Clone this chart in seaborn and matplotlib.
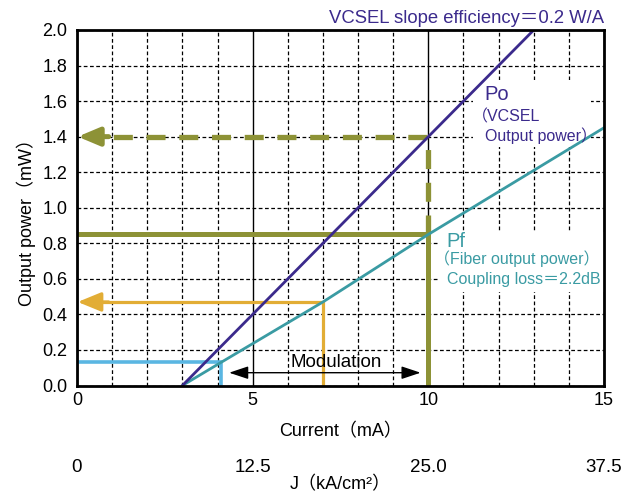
import matplotlib
matplotlib.use("Agg")
import matplotlib.pyplot as plt
import seaborn as sns
import pandas as pd
from matplotlib.patches import Rectangle
from matplotlib.ticker import MultipleLocator

# VCSEL output power (Po) and fiber-coupled power (Pf) vs. drive current
current_po = [3.0, 13.0]
power_po = [0.0, 2.0]
current_pf = [3.0, 4.1, 7.0, 10.0, 15.0]
power_pf = [0.0, 0.13, 0.47, 0.85, 1.45]

# Operating points marked on the curves
low_current, low_power = 4.1, 0.13
mid_current, mid_power = 7.0, 0.47
high_current, high_pf, high_po = 10.0, 0.85, 1.40
modulation_span = [4.33, 9.78]

x_ticks = [0, 5, 10, 15]
x_tick_labels = ["0", "5", "10", "15"]
y_ticks = [0.0, 0.2, 0.4, 0.6, 0.8, 1.0, 1.2, 1.4, 1.6, 1.8, 2.0]
j_ticks = [0, 12.5, 25.0, 37.5]
j_tick_labels = ["0", "12.5", "25.0", "37.5"]

PURPLE = "#3b2a8c"
TEAL = "#3a9ba3"
OLIVE = "#8d9236"
ORANGE = "#e2ad35"
BLUE = "#5ab6e2"

sns.set_theme(style="white")
plt.rcParams["font.family"] = ["Liberation Sans", "Noto Sans CJK JP", "DejaVu Sans"]
plt.rcParams["font.size"] = 13

fig = plt.figure(figsize=(6.32, 4.94), dpi=100)
ax = fig.add_axes([77 / 632, 1 - 385.5 / 494, (604 - 77) / 632, (385.5 - 30) / 494])

po_df = pd.DataFrame({"current": current_po, "power": power_po})
pf_df = pd.DataFrame({"current": current_pf, "power": power_pf})

# grid: dashed every 1 mA / 0.2 mW, solid at 5 and 10 mA
ax.set_xlim(0, 15)
ax.set_ylim(0, 2.0)
ax.set_xticks(x_ticks)
ax.set_xticklabels(x_tick_labels)
ax.xaxis.set_minor_locator(MultipleLocator(1))
ax.set_yticks(y_ticks)
ax.set_yticklabels([f"{v:.1f}" for v in y_ticks])
ax.grid(False)
ax.grid(True, axis="x", which="minor", color="black", lw=0.9, ls=(0, (3, 2)), zorder=0)
ax.grid(True, axis="x", which="major", color="black", lw=1.0, ls="-", zorder=0)
ax.grid(True, axis="y", which="major", color="black", lw=0.9, ls=(0, (3, 2)), zorder=0)
ax.set_axisbelow(True)

# white panels behind the curve labels
ax.add_patch(Rectangle((11.27, 1.34), 3.35, 0.38, facecolor="white", edgecolor="none", zorder=1))
ax.add_patch(Rectangle((10.3, 0.526), 4.7, 0.34, facecolor="white", edgecolor="none", zorder=1))

# low level marker (blue)
ax.plot([0, low_current, low_current], [low_power, low_power, 0], color=BLUE, lw=2.6,
        solid_joinstyle="miter", zorder=3)

# mid level marker (orange) with arrow to the power axis
ax.plot([mid_current, mid_current, 0.6], [0, mid_power, mid_power], color=ORANGE, lw=2.3,
        solid_joinstyle="miter", zorder=3)
ax.annotate("", xy=(0.02, mid_power), xytext=(0.9, mid_power),
            arrowprops=dict(arrowstyle="-|>,head_length=1.1,head_width=0.45",
                            color=ORANGE, lw=2.3, shrinkA=0, shrinkB=0), zorder=3)

# high level marker (olive): fiber power solid, VCSEL power dashed
ax.plot([0, high_current, high_current], [high_pf, high_pf, 0], color=OLIVE, lw=3.6,
        solid_joinstyle="miter", zorder=3)
ax.plot([high_current, high_current, 0.7], [high_pf, high_po, high_po], color=OLIVE, lw=3.8,
        ls=(0, (3.6, 2.6)), zorder=3)
ax.annotate("", xy=(0.02, high_po), xytext=(0.9, high_po),
            arrowprops=dict(arrowstyle="-|>,head_length=1.0,head_width=0.42",
                            color=OLIVE, lw=3.6, shrinkA=0, shrinkB=0), zorder=3)

# characteristic curves
sns.lineplot(data=pf_df, x="current", y="power", ax=ax, color=TEAL, lw=2.0, zorder=4)
sns.lineplot(data=po_df, x="current", y="power", ax=ax, color=PURPLE, lw=2.0, zorder=4)

# modulation range
ax.annotate("", xy=(modulation_span[0], 0.072), xytext=(modulation_span[1], 0.072),
            arrowprops=dict(arrowstyle="<|-|>,head_length=0.9,head_width=0.3",
                            color="black", lw=1.0, shrinkA=0, shrinkB=0), zorder=5)
ax.text(7.39, 0.13, "Modulation", ha="center", va="center", fontsize=13.5, color="black", zorder=5)

# curve labels
ax.text(11.6, 1.635, "Po", color=PURPLE, fontsize=14.5, ha="left", va="center", zorder=5)
ax.text(11.25, 1.512, "（VCSEL", color=PURPLE, fontsize=11.5, ha="left", va="center", zorder=5)
ax.text(11.6, 1.404, "Output power）", color=PURPLE, fontsize=11.5, ha="left", va="center", zorder=5)

ax.text(10.5, 0.809, "Pf", color=TEAL, fontsize=14.5, ha="left", va="center", zorder=5)
ax.text(10.15, 0.712, "（Fiber output power）", color=TEAL, fontsize=11.5, ha="left", va="center", zorder=5)
ax.text(10.52, 0.594, "Coupling loss＝2.2dB", color=TEAL, fontsize=11.5, ha="left", va="center", zorder=5)

ax.text(1.0, 1.008, "VCSEL slope efficiency＝0.2 W/A", transform=ax.transAxes,
        color=PURPLE, fontsize=13.3, ha="right", va="bottom")

# axes styling
for side in ["top", "bottom", "left", "right"]:
    ax.spines[side].set_visible(True)
    ax.spines[side].set_color("black")
    ax.spines[side].set_linewidth(2.0)
    ax.spines[side].set_zorder(6)
ax.tick_params(axis="both", which="both", length=0, colors="black", labelsize=13)
ax.tick_params(axis="x", pad=5)
ax.tick_params(axis="y", pad=7)
ax.set_xlabel("Current（mA）", fontsize=13, color="black", labelpad=10)
ax.set_ylabel("Output power（mW）", fontsize=13, color="black")
ax.yaxis.set_label_coords(-0.077, 0.47)

# current-density axis below
sec = ax.secondary_xaxis(-0.19, functions=(lambda i: i * 2.5, lambda j: j / 2.5))
sec.set_xticks(j_ticks)
sec.set_xticklabels(j_tick_labels)
sec.spines["bottom"].set_visible(False)
sec.tick_params(length=0, labelsize=13.5, colors="black", pad=4)
sec.set_xlabel("J（kA/cm²）", fontsize=13, color="black", labelpad=0)

fig.savefig("out.png", dpi=100)
